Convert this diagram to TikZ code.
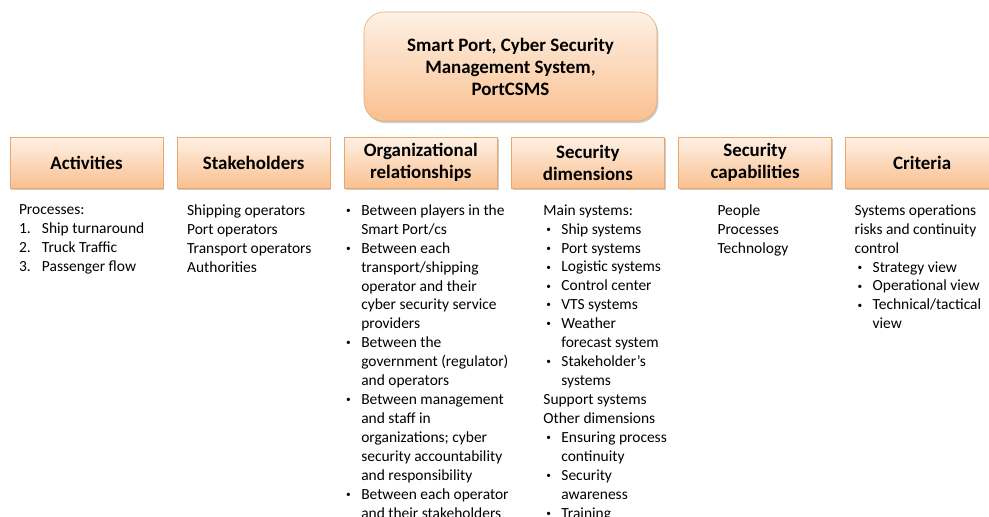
\documentclass[tikz,border=0pt]{standalone}
\usepackage{fontspec}
\setmainfont{Carlito}
\usetikzlibrary{positioning, shadows}
\definecolor{boxtop}{HTML}{FEF1E6}
\definecolor{boxbot}{HTML}{FAC08F}
\definecolor{boxline}{HTML}{E6A86C}
\newcommand{\headfont}{\fontsize{14.2}{16.5}\selectfont\bfseries}
\newcommand{\bodyfont}{\fontsize{11.6}{14.2}\selectfont}
\newcommand{\bul}{\hspace*{2.2pt}\makebox[11.3pt][l]{\raisebox{0.25ex}{\fontsize{7}{7}\selectfont\textbullet}}}
\newcommand{\ind}{\hspace*{13.5pt}}
\newcommand{\enum}[1]{\makebox[17.25pt][l]{#1.}}
\tikzset{
  headbox/.style={draw=boxline, top color=boxtop, bottom color=boxbot, font=\headfont,
    align=center, minimum width=114.75pt, minimum height=38.25pt, inner sep=0pt,
    drop shadow={shadow xshift=1pt, shadow yshift=-1.5pt, fill=black!45, opacity=0.45}},
  topbox/.style={headbox, rounded corners=15pt, minimum width=219.75pt, minimum height=81.75pt},
  listtext/.style={font=\bodyfont, align=left, inner sep=0pt, anchor=north west,
    execute at begin node=\strut},
}

\begin{document}
\begin{tikzpicture}[x=0.75pt, y=-0.75pt, node distance=10.2pt]
	     \fill[white] (0,0) rectangle (989,517);
	     \useasboundingbox (0,0) rectangle (989,517);
	     \clip (0,0) rectangle (989,517);
	     %
             \node[topbox] (csms) at (510.5,66.5) {Smart Port, Cyber Security\\Management System,\\PortCSMS};
             %
             \node[headbox] (act) at (86.5,162.5) {Activities};
             \node[headbox, right=of act] (stake) {Stakeholders};
             \node[headbox, right=of stake] (org) {Organizational\\relationships};
             \node[headbox, right=of org] (secdim) {Security\\dimensions};
             \node[headbox, right=of secdim] (seccap) {Security\\capabilities};
             \node[headbox, right=of seccap] (crit) {Criteria};
             %
             \node[listtext, below right=12pt and 6.75pt of act.south west] (actlist)
               {Processes:\\ \enum{1}Ship turnaround\\ \enum{2}Truck Traffic\\ \enum{3}Passenger flow};
             \node[listtext, below right=12pt and 7.5pt of stake.south west] (stakelist)
               {Shipping operators\\ Port operators\\ Transport operators\\ Authorities};
             \node[listtext, below right=12pt and -0.75pt of org.south west] (orglist)
               {\bul Between players in the\\ \ind Smart Port/cs\\
                \bul Between each\\ \ind transport/shipping\\ \ind operator and their\\
                \ind cyber security service\\ \ind providers\\
                \bul Between the\\ \ind government (regulator)\\ \ind and operators\\
                \bul Between management\\ \ind and staff in\\ \ind organizations; cyber\\
                \ind security accountability\\ \ind and responsibility\\
                \bul Between each operator\\ \ind and their stakeholders};
             \node[listtext, below right=12pt and 24pt of secdim.south west] (secdimlist)
               {Main systems:\\ \bul Ship systems\\ \bul Port systems\\ \bul Logistic systems\\
                \bul Control center\\ \bul VTS systems\\ \bul Weather\\ \ind forecast system\\
                \bul Stakeholder's\\ \ind systems\\ Support systems\\ Other dimensions\\
                \bul Ensuring process\\ \ind continuity\\ \bul Security\\ \ind awareness\\
                \bul Training};
             \node[listtext, below right=12pt and 29.25pt of seccap.south west] (seccaplist)
               {People\\ Processes\\ Technology};
             \node[listtext, below right=12pt and 6.75pt of crit.south west] (critlist)
               {Systems operations\\ risks and continuity\\ control\\ \bul Strategy view\\
                \bul Operational view\\ \bul Technical/tactical\\ \ind view};
          \end{tikzpicture}
\end{document}
